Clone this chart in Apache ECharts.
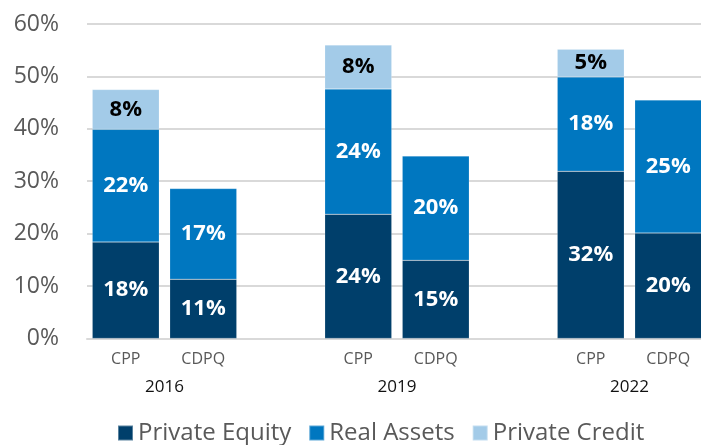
<!DOCTYPE html>
<html>
<head>
<meta charset="utf-8">
<script src="https://cdn.jsdelivr.net/npm/echarts@6/dist/echarts.min.js"></script>
<style>
  html, body { margin: 0; padding: 0; background: #fff; }
  #chart { width: 701px; height: 445px; }
</style>
</head>
<body>
<div id="chart"></div>
<script>
// fund under each bar, empty slots keep the gaps between years
const funds = ["CPP", "CDPQ", "", "CPP", "CDPQ", "", "CPP", "CDPQ"];
// year labels sit centred under each pair
const years = ["", "2016", "", "", "2019", "", "", "2022", ""];

const privateEquity = [18.4, 11.3, "-", 23.7, 14.9, "-", 31.9, 20.1];
const realAssets = [21.5, 17.3, "-", 23.9, 19.9, "-", 18.0, 25.4];
const privateCredit = [7.6, "-", "-", 8.4, "-", "-", 5.3, "-"];

const yTicks = [0, 10, 20, 30, 40, 50, 60];

const font = "Open Sans";
const grey = "#595959";

const chart = echarts.init(document.getElementById("chart"));

// label on each block, rounded like the source
function blockLabel(color) {
  return {
    show: true,
    position: "inside",
    color: color,
    fontFamily: font,
    fontWeight: "bold",
    fontSize: 22,
    formatter: (p) => Math.round(p.value) + "%",
  };
}

function makeSeries(name, data, color, labelColor) {
  return {
    name: name,
    type: "bar",
    stack: "mix",
    barWidth: 67,
    data: data,
    itemStyle: { color: color, borderColor: "rgba(255,255,255,0.35)", borderWidth: 0.5 },
    label: blockLabel(labelColor),
  };
}

chart.setOption({
  animation: false,
  textStyle: { fontFamily: font },
  grid: { left: 87, right: -6, top: 24, bottom: 106.6, outerBoundsMode: "none" },
  legend: {
    top: 416,
    left: 112,
    icon: "rect",
    itemWidth: 15,
    itemHeight: 15,
    itemGap: 17,
    textStyle: { fontFamily: font, fontSize: 24, color: grey },
    data: ["Private Equity", "Real Assets", "Private Credit"],
  },
  xAxis: [
    {
      type: "category",
      data: funds,
      axisLine: { lineStyle: { color: "#d9d9d9", width: 2 } },
      axisTick: { show: false },
      axisLabel: { color: grey, fontFamily: font, fontSize: 16, margin: 13 },
    },
    {
      type: "category",
      data: years,
      position: "bottom",
      offset: 27,
      boundaryGap: false,
      axisLine: { show: false },
      axisTick: { show: false },
      axisLabel: { color: "#111", fontFamily: font, fontSize: 17, margin: 13, interval: 0 },
    },
  ],
  yAxis: {
    type: "value",
    min: yTicks[0],
    max: yTicks[yTicks.length - 1],
    interval: 10,
    axisLine: { show: false },
    axisTick: { show: false },
    axisLabel: { color: grey, fontFamily: font, fontSize: 23, margin: 28, formatter: "{value}%" },
    splitLine: { lineStyle: { color: "#d9d9d9", width: 2 } },
  },
  series: [
    makeSeries("Private Equity", privateEquity, "#003f6b", "#fff"),
    makeSeries("Real Assets", realAssets, "#0077c0", "#fff"),
    makeSeries("Private Credit", privateCredit, "#a3cbe8", "#000"),
  ],
});
</script>
</body>
</html>
